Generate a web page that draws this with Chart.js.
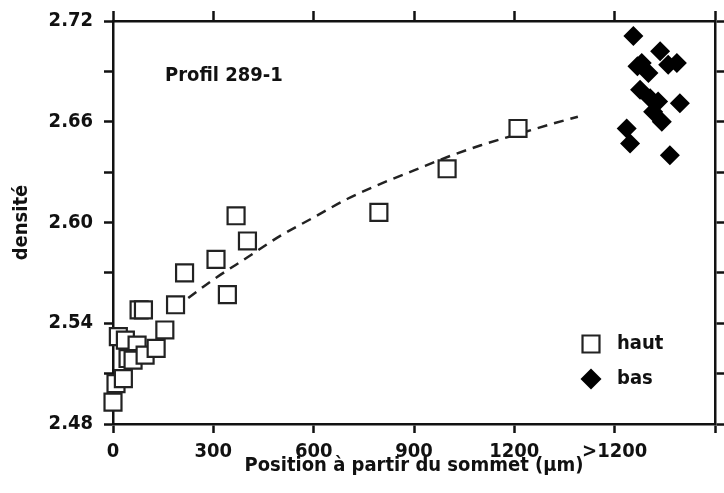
<!DOCTYPE html>
<html>
<head>
<meta charset="utf-8">
<script src="https://cdn.jsdelivr.net/npm/chart.js@4.4.1/dist/chart.umd.min.js"></script>
<style>
  html, body { margin: 0; padding: 0; background: #fff; }
</style>
</head>
<body>
<canvas id="chart" width="724" height="493"></canvas>
<script>
// haut (squares)
const hautX = [0, 9, 31, 16, 37, 72, 45, 60, 96, 129, 155, 78, 91, 187, 214, 308, 342, 368, 402, 795, 999, 1211];
const hautY = [2.493, 2.504, 2.507, 2.532, 2.530, 2.527, 2.519, 2.518, 2.521, 2.525, 2.536, 2.548, 2.548, 2.551, 2.570, 2.578, 2.557, 2.604, 2.589, 2.606, 2.632, 2.656];

// bas (diamonds), plotted in the ">1200" band
const basX = [1556, 1636, 1686, 1660, 1568, 1601, 1581, 1576, 1606, 1630, 1615, 1641, 1695, 1536, 1546, 1665];
const basY = [2.711, 2.702, 2.695, 2.694, 2.693, 2.689, 2.695, 2.679, 2.674, 2.672, 2.666, 2.660, 2.671, 2.656, 2.647, 2.640];

// dashed trend curve
const curveX = [225, 300, 400, 500, 600, 700, 800, 900, 1000, 1100, 1200, 1300, 1390];
const curveY = [2.555, 2.566, 2.579, 2.592, 2.603, 2.614, 2.623, 2.631, 2.639, 2.646, 2.652, 2.658, 2.663];

const xTickLabels = ['0', '300', '600', '900', '1200', '>1200', ''];
const yTickLabels = ['2.48', '', '2.54', '', '2.60', '', '2.66', '', '2.72'];

const seriesNames = ['haut', 'bas'];
const FONT = "'DejaVu Sans Condensed', 'Liberation Sans Narrow', sans-serif";
const INK = '#111';

const toPoints = (xs, ys) => xs.map((x, i) => ({ x: x, y: ys[i] }));

// legend drawn inside the plot, lower right
const innerLegend = {
  id: 'innerLegend',
  afterDatasetsDraw(chart) {
    const { ctx, chartArea } = chart;
    [0, 1].forEach((di, k) => {
      const ds = chart.data.datasets[di];
      const x = chartArea.right - 124;
      const y = chartArea.bottom - 80 + k * 35;
      ctx.save();
      ctx.strokeStyle = ds.borderColor;
      ctx.fillStyle = ds.backgroundColor;
      ctx.lineWidth = ds.borderWidth;
      Chart.helpers.drawPoint(ctx, {
        pointStyle: ds.pointStyle,
        radius: ds.legendRadius,
        borderWidth: ds.borderWidth,
        rotation: 0
      }, x, y);
      ctx.fillStyle = INK;
      ctx.font = 'bold 20px ' + FONT;
      ctx.textBaseline = 'middle';
      ctx.fillText(ds.label, x + 26, y);
      ctx.restore();
    });
  }
};

// "Profil 289-1" inside the plot, upper left
const plotLabel = {
  id: 'plotLabel',
  afterDraw(chart) {
    const { ctx, chartArea } = chart;
    ctx.save();
    ctx.fillStyle = INK;
    ctx.font = 'bold 20px ' + FONT;
    ctx.textBaseline = 'alphabetic';
    ctx.fillText('Profil 289-1', chartArea.left + 52, chartArea.top + 60);
    ctx.restore();
  }
};

const noPad = (s) => { s.paddingLeft = 0; s.paddingRight = 0; s.paddingTop = 0; s.paddingBottom = 0; };
const axisGrid = { drawOnChartArea: false, drawTicks: true, tickLength: 9, tickWidth: 2.5, tickColor: INK };
const axisBorder = { display: true, width: 2.5, color: INK };
const tickFont = { family: FONT, size: 20, weight: 'bold' };

new Chart(document.getElementById('chart'), {
  type: 'scatter',
  data: {
    datasets: [
      {
        label: seriesNames[0],
        data: toPoints(hautX, hautY),
        pointStyle: 'rect',
        pointRadius: 12,
        legendRadius: 12,
        borderWidth: 2.2,
        borderColor: '#222',
        backgroundColor: '#fff',
        clip: false
      },
      {
        label: seriesNames[1],
        data: toPoints(basX, basY),
        pointStyle: 'rectRot',
        pointRadius: 10,
        legendRadius: 10.5,
        borderWidth: 0,
        borderColor: '#000',
        backgroundColor: '#000',
        clip: false
      },
      {
        label: 'fit',
        data: toPoints(curveX, curveY),
        showLine: true,
        pointRadius: 0,
        borderColor: '#222',
        borderWidth: 2.5,
        borderDash: [10, 7],
        cubicInterpolationMode: 'monotone',
        fill: false
      }
    ]
  },
  options: {
    responsive: false,
    devicePixelRatio: 1,
    animation: false,
    layout: { padding: 0, autoPadding: false },
    plugins: {
      legend: { display: false },
      tooltip: { enabled: false }
    },
    scales: {
      x: {
        type: 'linear',
        position: 'bottom',
        min: 0,
        max: 1800,
        ticks: {
          stepSize: 300,
          autoSkip: false,
          maxRotation: 0,
          padding: 7,
          color: INK,
          font: tickFont,
          callback: (v, i) => xTickLabels[i]
        },
        grid: axisGrid,
        border: axisBorder,
        title: {
          display: true,
          text: 'Position à partir du sommet (µm)',
          color: INK,
          font: tickFont,
          padding: { top: 0, bottom: 15 }
        },
        afterFit: (s) => { s.height = 69; noPad(s); }
      },
      xTop: {
        type: 'linear',
        position: 'top',
        min: 0,
        max: 1800,
        ticks: { stepSize: 300, display: false },
        grid: Object.assign({}, axisGrid, { tickLength: 10 }),
        border: axisBorder,
        afterFit: (s) => { s.height = 21; noPad(s); }
      },
      y: {
        type: 'linear',
        position: 'left',
        min: 2.48,
        max: 2.72,
        ticks: {
          stepSize: 0.03,
          autoSkip: false,
          padding: 11,
          color: INK,
          font: tickFont,
          callback: (v, i) => yTickLabels[i]
        },
        grid: axisGrid,
        border: axisBorder,
        title: {
          display: true,
          text: 'densité',
          color: INK,
          font: tickFont,
          padding: { top: 10, bottom: 0 }
        },
        afterFit: (s) => { s.width = 113; noPad(s); }
      },
      yRight: {
        type: 'linear',
        position: 'right',
        min: 2.48,
        max: 2.72,
        ticks: { stepSize: 0.03, display: false },
        grid: axisGrid,
        border: axisBorder,
        afterFit: (s) => { s.width = 9; noPad(s); }
      }
    }
  },
  plugins: [innerLegend, plotLabel]
});
</script>
</body>
</html>
